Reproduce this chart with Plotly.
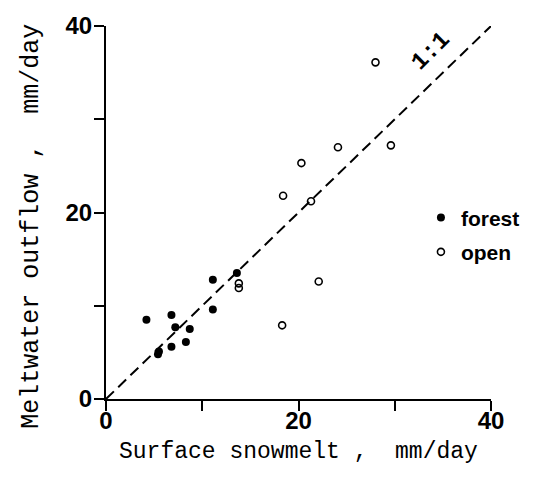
import plotly.graph_objects as go

# Data
forest_x = [4.2, 6.8, 7.2, 8.7, 6.8, 8.3, 5.5, 5.4, 11.1, 11.1, 13.6]
forest_y = [8.5, 9.0, 7.7, 7.5, 5.6, 6.1, 5.1, 4.8, 9.6, 12.8, 13.5]
open_x = [13.8, 13.8, 22.1, 18.3, 20.3, 24.1, 29.6, 21.3, 28.0, 18.4]
open_y = [12.4, 11.9, 12.6, 7.9, 25.3, 27.0, 27.2, 21.2, 36.1, 21.8]
line_x = [0, 40]
line_y = [0, 40]
tick_vals = [0, 10, 20, 30, 40]
tick_text = ["0", "", "20", "", "40"]

mono = "Liberation Mono, DejaVu Sans Mono, monospace"
sans = "Liberation Sans, Arial, sans-serif"

fig = go.Figure()
fig.add_trace(go.Scatter(
    x=line_x, y=line_y, mode="lines", showlegend=False,
    line=dict(color="black", width=2, dash="11px,6px"), hoverinfo="skip"))
fig.add_trace(go.Scatter(
    x=forest_x, y=forest_y, mode="markers", name="forest", legendgroup="f",
    marker=dict(symbol="circle", size=8, color="black")))
fig.add_trace(go.Scatter(
    x=open_x, y=open_y, mode="markers", name="open", legendgroup="o",
    marker=dict(symbol="circle-open", size=7, color="black", line=dict(width=1.6))))

axis_common = dict(
    range=[0, 40], tickvals=tick_vals, ticktext=tick_text,
    ticks="outside", ticklen=10, tickwidth=2, tickcolor="black",
    showline=True, linewidth=2, linecolor="black", showgrid=False, zeroline=False,
    tickfont=dict(family=sans, size=24, color="black", weight="bold"),
)
fig.update_xaxes(**axis_common, ticklabelstandoff=-11)
fig.update_yaxes(**axis_common, ticklabelstandoff=-3)

fig.add_annotation(text="Surface snowmelt ,  mm/day", xref="paper", yref="paper",
                   x=0.5, y=0, yanchor="middle", yshift=-53, showarrow=False,
                   font=dict(family=mono, size=23, color="black"))
fig.add_annotation(text="Meltwater outflow ,  mm/day", xref="paper", yref="paper",
                   x=-0.192, y=0.462, xanchor="center", yanchor="middle", textangle=-90,
                   showarrow=False, font=dict(family=mono, size=25, color="black"))
fig.add_annotation(text="1:1", x=33.7, y=37.3, xref="x", yref="y", showarrow=False,
                   textangle=-45, font=dict(family=mono, size=24, color="black", weight="bold"))

fig.update_layout(
    width=540, height=487,
    margin=dict(l=106, r=49, t=15, b=88),
    plot_bgcolor="white", paper_bgcolor="white",
    legend=dict(x=0.818, y=0.44, xanchor="left", yanchor="middle",
                font=dict(family=sans, size=21, color="black", weight="bold"),
                tracegroupgap=4, traceorder="grouped", bgcolor="rgba(0,0,0,0)"),
)

fig.write_html("out.html")
